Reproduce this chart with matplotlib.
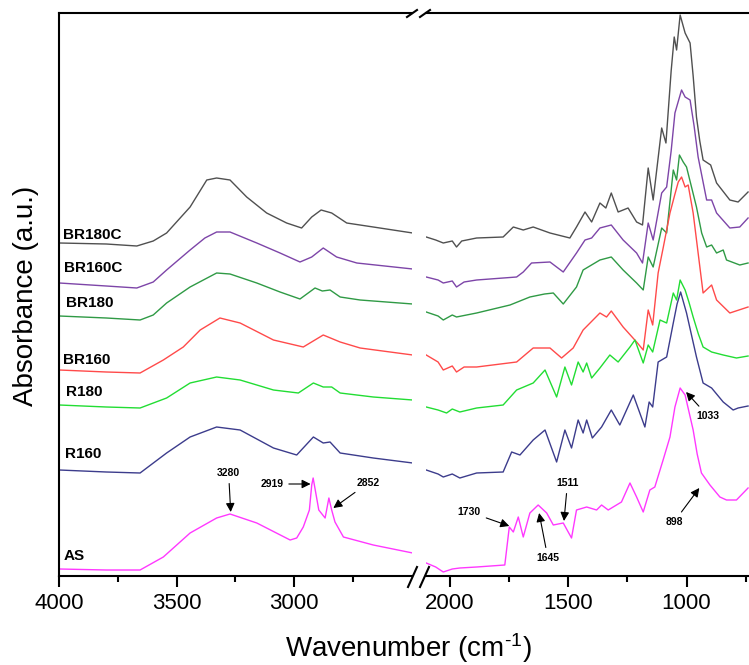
import matplotlib.pyplot as plt
import numpy as np
from matplotlib.lines import Line2D

plt.rcParams['font.family'] = ['Liberation Sans', 'DejaVu Sans']
plt.rcParams['mathtext.fontset'] = 'custom'
plt.rcParams['mathtext.rm'] = 'Liberation Sans'
plt.rcParams['mathtext.default'] = 'regular'

# spectra: wavenumber (cm-1) and absorbance (a.u., offset stacked)
wn_br180c = [4000, 3800, 3670, 3600, 3543, 3443, 3372, 3330, 3273, 3202, 3117, 3032, 2968, 2925, 2885, 2840, 2776, 2663, 2495,
             2100, 2060, 2028, 1990, 1972, 1950, 1887, 1775, 1732, 1690, 1648, 1577, 1493, 1465, 1429, 1401, 1366, 1341, 1318,
             1289, 1247, 1211, 1186, 1162, 1141, 1105, 1087, 1065, 1052, 1042, 1027, 1006, 985, 972, 958, 944, 930, 898, 873,
             817, 782, 740]
ab_br180c = [3.33, 3.32, 3.30, 3.35, 3.43, 3.69, 3.96, 3.98, 3.96, 3.79, 3.63, 3.53, 3.48, 3.59, 3.66, 3.63, 3.53, 3.49, 3.43,
             3.39, 3.36, 3.33, 3.35, 3.29, 3.35, 3.38, 3.39, 3.49, 3.46, 3.49, 3.43, 3.38, 3.49, 3.64, 3.54, 3.73, 3.68, 3.83,
             3.64, 3.68, 3.54, 3.51, 4.08, 3.76, 4.48, 4.33, 5.05, 5.39, 5.26, 5.61, 5.43, 5.33, 5.00, 4.59, 4.35, 4.16, 4.11, 3.93,
             3.76, 3.74, 3.84]

wn_br160c = [4000, 3800, 3670, 3600, 3543, 3443, 3380, 3330, 3273, 3159, 3060, 2975, 2925, 2876, 2819, 2733, 2495,
             2100, 2050, 2028, 1990, 1972, 1940, 1887, 1718, 1690, 1655, 1577, 1521, 1465, 1429, 1401, 1366, 1318, 1268,
             1211, 1186, 1162, 1141, 1105, 1084, 1065, 1049, 1021, 1006, 985, 968, 951, 915, 894, 873, 817, 775, 740]
ab_br160c = [2.93, 2.90, 2.88, 2.94, 3.06, 3.26, 3.38, 3.44, 3.44, 3.33, 3.23, 3.14, 3.19, 3.28, 3.19, 3.13, 3.07,
             2.99, 2.96, 2.93, 2.95, 2.89, 2.94, 2.96, 2.99, 3.04, 3.13, 3.14, 3.04, 3.23, 3.36, 3.38, 3.48, 3.51, 3.36,
             3.23, 3.13, 3.53, 3.36, 3.83, 3.89, 4.25, 4.63, 4.86, 4.79, 4.76, 4.50, 4.19, 3.76, 3.76, 3.63, 3.48, 3.49, 3.58]

wn_br180 = [4000, 3800, 3656, 3600, 3543, 3443, 3330, 3273, 3159, 3060, 2975, 2911, 2880, 2847, 2804, 2719, 2495,
            2100, 2050, 2028, 1990, 1972, 1887, 1746, 1662, 1600, 1563, 1521, 1465, 1437, 1366, 1318, 1268, 1211, 1183,
            1162, 1141, 1105, 1084, 1056, 1042, 1030, 1014, 1000, 980, 958, 936, 915, 894, 873, 845, 831, 775, 740]
ab_br180 = [2.60, 2.58, 2.56, 2.61, 2.73, 2.89, 3.03, 3.02, 2.93, 2.84, 2.77, 2.88, 2.85, 2.86, 2.79, 2.76, 2.72,
            2.64, 2.60, 2.56, 2.61, 2.59, 2.63, 2.71, 2.79, 2.82, 2.83, 2.72, 2.89, 3.06, 3.16, 3.19, 3.06, 2.93, 2.86,
            3.19, 3.09, 3.48, 3.43, 4.06, 3.96, 4.21, 4.14, 4.09, 3.90, 3.69, 3.43, 3.29, 3.31, 3.23, 3.26, 3.16, 3.11, 3.13]

wn_br160 = [4000, 3800, 3656, 3557, 3472, 3400, 3316, 3230, 3088, 2961, 2876, 2804, 2719, 2495,
            2100, 2050, 2028, 1990, 1972, 1940, 1887, 1718, 1648, 1577, 1528, 1479, 1437, 1366, 1338, 1318, 1268, 1211,
            1183, 1162, 1143, 1120, 1098, 1070, 1050, 1035, 1021, 1006, 993, 972, 930, 894, 873, 817, 740]
ab_br160 = [2.06, 2.04, 2.03, 2.16, 2.29, 2.46, 2.58, 2.53, 2.36, 2.29, 2.41, 2.34, 2.28, 2.21,
            2.21, 2.14, 2.06, 2.10, 2.04, 2.09, 2.09, 2.14, 2.28, 2.28, 2.18, 2.28, 2.46, 2.63, 2.59, 2.65, 2.49, 2.34,
            2.26, 2.66, 2.51, 3.03, 3.29, 3.63, 3.81, 3.94, 3.99, 3.89, 3.91, 3.63, 2.83, 2.91, 2.76, 2.63, 2.69]

wn_r180 = [4000, 3800, 3656, 3543, 3443, 3330, 3230, 3088, 2982, 2918, 2876, 2840, 2804, 2663, 2495,
           2100, 2050, 2014, 1990, 1958, 1887, 1775, 1718, 1648, 1598, 1549, 1514, 1486, 1458, 1437, 1422, 1401, 1366,
           1324, 1289, 1239, 1218, 1183, 1162, 1143, 1112, 1084, 1056, 1042, 1027, 1006, 990, 972, 950, 930, 894, 845,
           789, 740]
ab_r180 = [1.71, 1.69, 1.68, 1.78, 1.93, 1.99, 1.96, 1.86, 1.83, 1.93, 1.89, 1.89, 1.83, 1.79, 1.76,
           1.69, 1.66, 1.63, 1.67, 1.64, 1.68, 1.71, 1.86, 1.93, 2.06, 1.79, 2.09, 1.91, 2.14, 2.04, 2.13, 1.98, 2.08,
           2.21, 2.14, 2.29, 2.36, 2.13, 2.31, 2.24, 2.56, 2.53, 2.83, 2.76, 2.96, 2.86, 2.74, 2.59, 2.42, 2.29, 2.24, 2.21,
           2.18, 2.20]

wn_r160 = [4000, 3800, 3656, 3543, 3443, 3330, 3230, 3088, 2989, 2918, 2876, 2847, 2804, 2663, 2495,
           2100, 2050, 2028, 1990, 1958, 1887, 1775, 1739, 1704, 1648, 1598, 1549, 1514, 1486, 1458, 1437, 1422, 1398,
           1359, 1318, 1282, 1225, 1176, 1158, 1143, 1120, 1084, 1056, 1040, 1025, 1000, 980, 958, 930, 894, 845, 803,
           782, 740]
ab_r160 = [1.06, 1.04, 1.03, 1.23, 1.39, 1.49, 1.46, 1.28, 1.21, 1.39, 1.33, 1.34, 1.23, 1.18, 1.13,
           1.06, 1.02, 0.99, 1.02, 0.98, 1.03, 1.04, 1.24, 1.21, 1.36, 1.46, 1.14, 1.46, 1.28, 1.56, 1.43, 1.56, 1.38,
           1.49, 1.66, 1.51, 1.81, 1.49, 1.74, 1.69, 2.14, 2.19, 2.53, 2.72, 2.84, 2.63, 2.42, 2.19, 1.93, 1.88, 1.74, 1.66,
           1.68, 1.70]

wn_as = [4000, 3800, 3656, 3557, 3443, 3330, 3273, 3159, 3017, 2989, 2961, 2935, 2925, 2919, 2910, 2895, 2868, 2852,
         2840, 2826, 2790, 2663, 2495,
         2100, 2060, 2028, 1990, 1958, 1887, 1768, 1749, 1732, 1711, 1690, 1662, 1627, 1591, 1563, 1521, 1486, 1465,
         1422, 1380, 1359, 1331, 1310, 1275, 1239, 1211, 1183, 1155, 1134, 1099, 1070, 1049, 1027, 1006, 972, 955, 937,
         901, 859, 831, 789, 740]
ab_as = [0.07, 0.06, 0.06, 0.19, 0.43, 0.58, 0.62, 0.53, 0.36, 0.38, 0.49, 0.66, 0.91, 0.98, 0.86, 0.66, 0.58, 0.78,
         0.66, 0.54, 0.39, 0.31, 0.23,
         0.13, 0.09, 0.04, 0.07, 0.08, 0.09, 0.11, 0.49, 0.44, 0.59, 0.39, 0.63, 0.71, 0.63, 0.51, 0.53, 0.38, 0.66,
         0.69, 0.66, 0.71, 0.66, 0.69, 0.74, 0.93, 0.79, 0.64, 0.86, 0.89, 1.16, 1.39, 1.69, 1.88, 1.81, 1.46, 1.22, 1.03,
         0.91, 0.79, 0.76, 0.76, 0.88]

names = ['BR180C', 'BR160C', 'BR180', 'BR160', 'R180', 'R160', 'AS']
wns = [wn_br180c, wn_br160c, wn_br180, wn_br160, wn_r180, wn_r160, wn_as]
abs_ = [ab_br180c, ab_br160c, ab_br180, ab_br160, ab_r180, ab_r160, ab_as]
colors = ['#505050', '#7d45a8', '#2f9a45', '#ff4a4a', '#22dd33', '#3c3c8c', '#ff38ff']
name_x = [3983, 3980, 3970, 3983, 3970, 3975, 3983]
name_y = [3.41, 3.08, 2.73, 2.16, 1.84, 1.22, 0.20]

# peak annotations: label, arrow tip (wn, a.u.), text centre (wn, a.u.)
peak_labels = ['3280', '2919', '2852', '1730', '1645', '1511', '898', '1033']
peak_tip = [(3270, 0.64), (2930, 0.92), (2833, 0.68), (1749, 0.50), (1623, 0.63), (1518, 0.55), (946, 0.88), (1002, 1.84)]
peak_txt = [(3279, 1.03), (3095, 0.92), (2685, 0.93), (1918, 0.64), (1586, 0.18), (1503, 0.93), (1053, 0.54), (910, 1.60)]

W, H = 749, 665
fig = plt.figure(figsize=(W / 100, H / 100), dpi=100)
ax1 = fig.add_axes([59.3 / W, 89 / H, (412 - 59.3) / W, 563 / H])
ax2 = fig.add_axes([426 / W, 89 / H, (W - 426) / W, 563 / H])

for wn, ab, c in zip(wns, abs_, colors):
    wn = np.array(wn)
    ab = np.array(ab)
    hi = wn >= 2400
    ax1.plot(wn[hi], ab[hi], color=c, lw=1.0)
    ax2.plot(wn[~hi], ab[~hi], color=c, lw=1.0)

for n, x, y in zip(names, name_x, name_y):
    ax1.text(x, y, n, fontsize=11, fontweight='bold', ha='left', va='center')

for lab, tip, txt in zip(peak_labels, peak_tip, peak_txt):
    ax = ax1 if tip[0] > 2400 else ax2
    ax.annotate(lab, xy=tip, xytext=txt, fontsize=7.5, fontweight='bold', ha='center', va='center',
                arrowprops=dict(arrowstyle='-|>', color='k', lw=0.8, mutation_scale=13, shrinkA=2, shrinkB=0))

ax1.set_xlim(4000, 2498)
ax2.set_xlim(2101, 736)
ax1.set_xticks([4000, 3500, 3000])
ax1.set_xticks([3750, 3250, 2750], minor=True)
ax2.set_xticks([2000, 1500, 1000])
ax2.set_xticks([1750, 1250, 750], minor=True)
for ax in (ax1, ax2):
    ax.set_ylim(0, 5.63)
    ax.set_yticks([])
    ax.spines['right'].set_visible(False)
    for s in ax.spines.values():
        s.set_linewidth(1.5)
    ax.tick_params(axis='x', which='major', direction='out', length=8, width=1.5, labelsize=16, pad=4)
    ax.tick_params(axis='x', which='minor', direction='out', length=4.5, width=1.5)
ax2.spines['left'].set_visible(False)

# break marks
for x0, y0, x1, y1 in [(408, 587, 417, 567), (420, 587, 429, 567), (407, 17, 417, 10), (420, 17, 430, 10)]:
    fig.add_artist(Line2D([x0 / W, x1 / W], [1 - y0 / H, 1 - y1 / H], transform=fig.transFigure, color='k', lw=1.5))

fig.text(0.035, 0.555, 'Absorbance (a.u.)', rotation=90, fontsize=20, ha='center', va='center')
fig.text(0.545, 0.026, r'Wavenumber (cm$^{\text{-}1}$)', fontsize=20, ha='center', va='center')

fig.savefig('out.png', dpi=100)
